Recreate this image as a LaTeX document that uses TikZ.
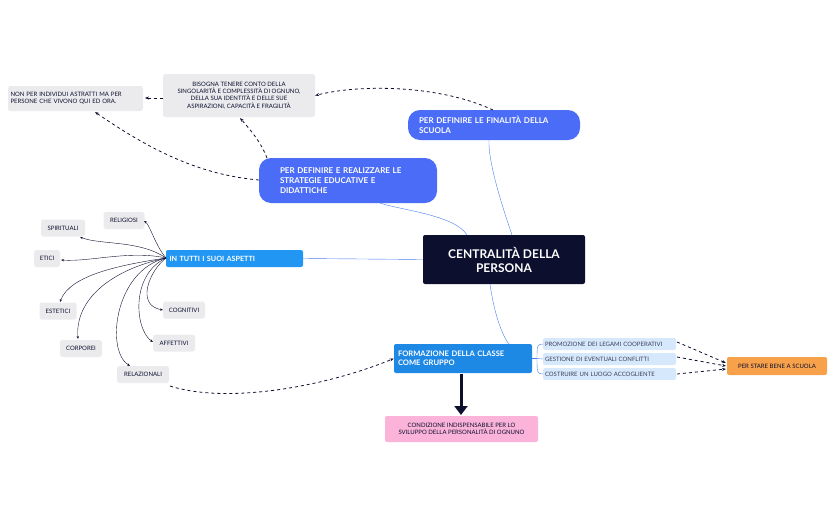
\documentclass[tikz,border=0pt]{standalone}
\usepackage{fontspec}
\setmainfont{Lato}
\usetikzlibrary{arrows.meta}
\definecolor{navy}{HTML}{0D0F2E}
\definecolor{pblue}{HTML}{4A6CF7}
\definecolor{mblue}{HTML}{2196F3}
\definecolor{fblue}{HTML}{1E88E5}
\definecolor{lblue}{HTML}{D6E8FB}
\definecolor{gbox}{HTML}{EBEBEE}
\definecolor{orng}{HTML}{F7A14A}
\definecolor{pnk}{HTML}{FBB3D9}
\definecolor{lnk}{HTML}{4A7CF0}
\begin{document}
\begin{tikzpicture}[x=1pt,y=-1pt,
 gb/.style={fill=gbox,rounded corners=2.5pt,font=\fontsize{6}{7.3}\selectfont,text=navy,align=center,inner sep=0pt},
 pill/.style={fill=pblue,rounded corners=12pt,text=white,font=\fontsize{8}{10}\selectfont\bfseries,align=left,inner sep=0pt},
 lb/.style={fill=lblue,rounded corners=2pt,text=navy!80,font=\fontsize{6}{7}\selectfont,inner sep=0pt,minimum width=133pt,minimum height=12pt,text width=129pt,align=left},
 da/.style={dashed,thick,navy,-{Stealth[length=4pt]}},
 sa/.style={thin,navy,-{Stealth[length=3pt]}},
 bl/.style={lnk,thin}]
\useasboundingbox (0,0) rectangle (835,517);
\node[fill=navy,rounded corners=2pt,text=white,font=\fontsize{12}{14}\selectfont\bfseries,align=center,minimum width=162pt,minimum height=49pt] (c) at (504,259.5) {CENTRALITÀ DELLA\\PERSONA};
\node[pill,minimum width=172pt,minimum height=30pt,text width=150pt] (f) at (494,125) {PER DEFINIRE LE FINALITÀ DELLA\\SCUOLA};
\node[pill,minimum width=178pt,minimum height=45pt,text width=136pt] (s) at (348,180.5) {PER DEFINIRE E REALIZZARE LE\\STRATEGIE EDUCATIVE E\\DIDATTICHE};
\node[gb,minimum width=152pt,minimum height=43pt] (b) at (239,95.5) {BISOGNA TENERE CONTO DELLA\\SINGOLARITÀ E COMPLESSITÀ DI OGNUNO,\\DELLA SUA IDENTITÀ E DELLE SUE\\ASPIRAZIONI, CAPACITÀ E FRAGILITÀ};
\node[gb,minimum width=135pt,minimum height=25pt,align=left,text width=130pt] (n) at (75.5,98.5) {NON PER INDIVIDUI ASTRATTI MA PER\\PERSONE CHE VIVONO QUI ED ORA.};
\node[fill=mblue,rounded corners=2pt,text=white,font=\fontsize{7.2}{8}\selectfont\bfseries,minimum width=137pt,minimum height=17pt,text width=130pt,inner sep=0pt] (t) at (234.5,258.5) {IN TUTTI I SUOI ASPETTI};
\foreach \nm/\x/\y/\w/\tx in {sp/63/228/44/SPIRITUALI, re/124/220.5/41/RELIGIOSI, et/47/258.5/26/ETICI, es/58/311/37/ESTETICI, co/81/348.5/42/CORPOREI, rl/143/374.5/52/RELAZIONALI, cg/184/310/42/COGNITIVI, af/174/343/42/AFFETTIVI}
  \node[gb,minimum width=\w pt,minimum height=17pt] (\nm) at (\x,\y) {\tx};
\node[fill=fblue,rounded corners=2pt,text=white,font=\fontsize{7.6}{9.2}\selectfont\bfseries,minimum width=138pt,minimum height=29pt,text width=130pt,align=left,inner sep=0pt] (g) at (463,358.5) {FORMAZIONE DELLA CLASSE\\COME GRUPPO};
\node[lb] (p1) at (609.5,344) {PROMOZIONE DEI LEGAMI COOPERATIVI};
\node[lb] (p2) at (609.5,359) {GESTIONE DI EVENTUALI CONFLITTI};
\node[lb] (p3) at (609.5,374) {COSTRUIRE UN LUOGO ACCOGLIENTE};
\node[fill=orng,rounded corners=2pt,text=navy,font=\fontsize{6}{7}\selectfont,minimum width=100pt,minimum height=18pt,inner sep=0pt] (o) at (777,366) {PER STARE BENE A SCUOLA};
\node[fill=pnk,rounded corners=2pt,text=navy,font=\fontsize{6}{7.3}\selectfont,align=center,minimum width=153pt,minimum height=26pt,inner sep=0pt] (k) at (461.5,429) {CONDIZIONE INDISPENSABILE PER LO\\SVILUPPO DELLA PERSONALITÀ DI OGNUNO};
% blue links
\draw[bl] (512,235) .. controls (500,200) and (488,160) .. (489,140);
\draw[bl] (467,235) .. controls (455,215) and (400,210) .. (380,203);
\draw[bl] (t.east) -- (c.west);
\draw[bl] (490,284) .. controls (495,320) and (505,340) .. (509,344);
\draw[bl] (g.east) -- (537,358.5);
\draw[bl] (543,344) .. controls (537,344) and (537,346) .. (537,358.5) .. controls (537,372) and (537,374) .. (543,374);
\draw[bl] (537,358.5) -- (543,359);
% dashed
\draw[da] (493,110) .. controls (440,85) and (360,84) .. (b.east);
\draw[da] (267,158) .. controls (262,145) and (255,135) .. (240,118);
\draw[da] (259,180) .. controls (200,175) and (150,150) .. (95,112);
\draw[da] (163,98) -- (145,98);
\draw[da] (170,386) .. controls (230,405) and (330,385) .. (g.west);
\draw[da] (677,342) -- (726,363);
\draw[da] (677,357) -- (726,366);
\draw[da] (677,374) -- (726,369);
\draw[navy,line width=3pt,-{Triangle[length=9pt,width=13pt]}] (461,374) -- (461,415);
% spokes
\coordinate (h) at (166,258);
\draw[sa] (h) .. controls (155,245) and (150,225) .. (144,221);
\draw[sa] (h) .. controls (140,240) and (100,245) .. (80,237);
\draw[sa] (h) .. controls (130,250) and (90,262) .. (61,260);
\draw[sa] (h) .. controls (120,265) and (70,275) .. (60,302);
\draw[sa] (h) .. controls (110,270) and (75,300) .. (78,339);
\draw[sa] (h) .. controls (115,270) and (105,350) .. (130,366);
\draw[sa] (h) .. controls (150,270) and (135,305) .. (163,310);
\draw[sa] (h) .. controls (130,275) and (135,330) .. (153,342);
\end{tikzpicture}
\end{document}
